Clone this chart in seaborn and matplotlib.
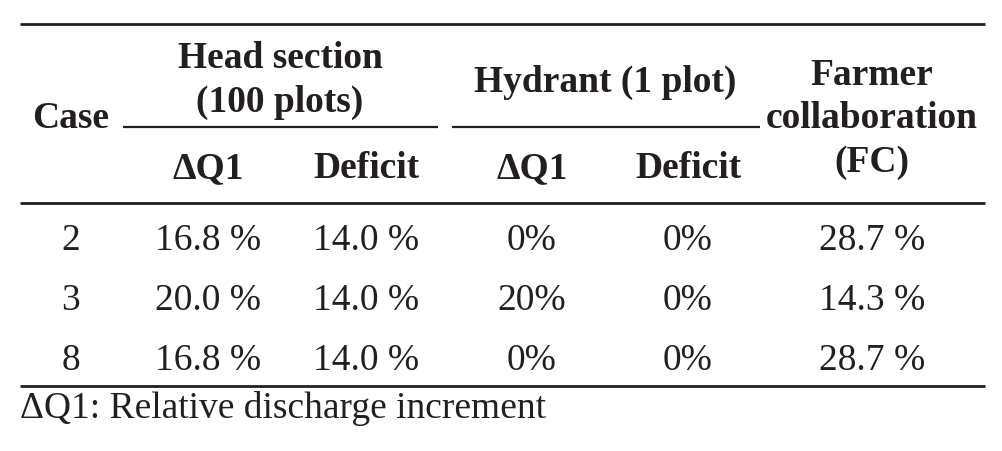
import matplotlib
matplotlib.use('Agg')
import matplotlib.pyplot as plt
import seaborn as sns

# table values
cases = ['2', '3', '8']
head_dq1 = [16.8, 20.0, 16.8]
head_deficit = [14.0, 14.0, 14.0]
hydrant_dq1 = [0, 20, 0]
hydrant_deficit = [0, 0, 0]
farmer_fc = [28.7, 14.3, 28.7]
footnote = '\u0394Q1: Relative discharge increment'

sns.set_theme(style='white')
plt.rcParams['font.family'] = ['Liberation Serif', 'DejaVu Serif']

ink = '#231f20'
fs = 27

fig = plt.figure(figsize=(10.02, 4.52), dpi=100)
ax = fig.add_axes([0, 0, 1, 1])
ax.set_xlim(0, 1002)
ax.set_ylim(452, 0)
ax.axis('off')

# column centres (pixels)
col_x = [71, 208, 366, 532, 688, 872]

def put(x, y, s, bold=False, ha='center'):
    ax.text(x, y, s, ha=ha, va='baseline', fontsize=fs, color=ink,
            fontweight='bold' if bold else 'normal')

# rules
ax.hlines([25, 204, 387], 20, 985, color=ink, lw=2.0)
ax.hlines(128, 123, 438, color=ink, lw=1.6)
ax.hlines(128, 452, 760, color=ink, lw=1.6)

# header
put(col_x[0], 128, 'Case', bold=True)
put(280, 68, 'Head section', bold=True)
put(280, 112, '(100 plots)', bold=True)
put(605, 92, 'Hydrant (1 plot)', bold=True)
put(col_x[5], 85, 'Farmer', bold=True)
put(col_x[5], 128, 'collaboration', bold=True)
put(col_x[5], 172, '(FC)', bold=True)
for x, lab in zip(col_x[1:5], ['\u0394Q1', 'Deficit', '\u0394Q1', 'Deficit']):
    put(x, 178, lab, bold=True)

# body rows
row_base = [250, 310, 370]
for i, y in enumerate(row_base):
    put(col_x[0], y, cases[i])
    put(col_x[1], y, f'{head_dq1[i]:.1f} %')
    put(col_x[2], y, f'{head_deficit[i]:.1f} %')
    put(col_x[3], y, f'{hydrant_dq1[i]:d}%')
    put(col_x[4], y, f'{hydrant_deficit[i]:d}%')
    put(col_x[5], y, f'{farmer_fc[i]:.1f} %')

put(20, 418, footnote, ha='left')

fig.savefig('out.png', dpi=100, facecolor='white')
